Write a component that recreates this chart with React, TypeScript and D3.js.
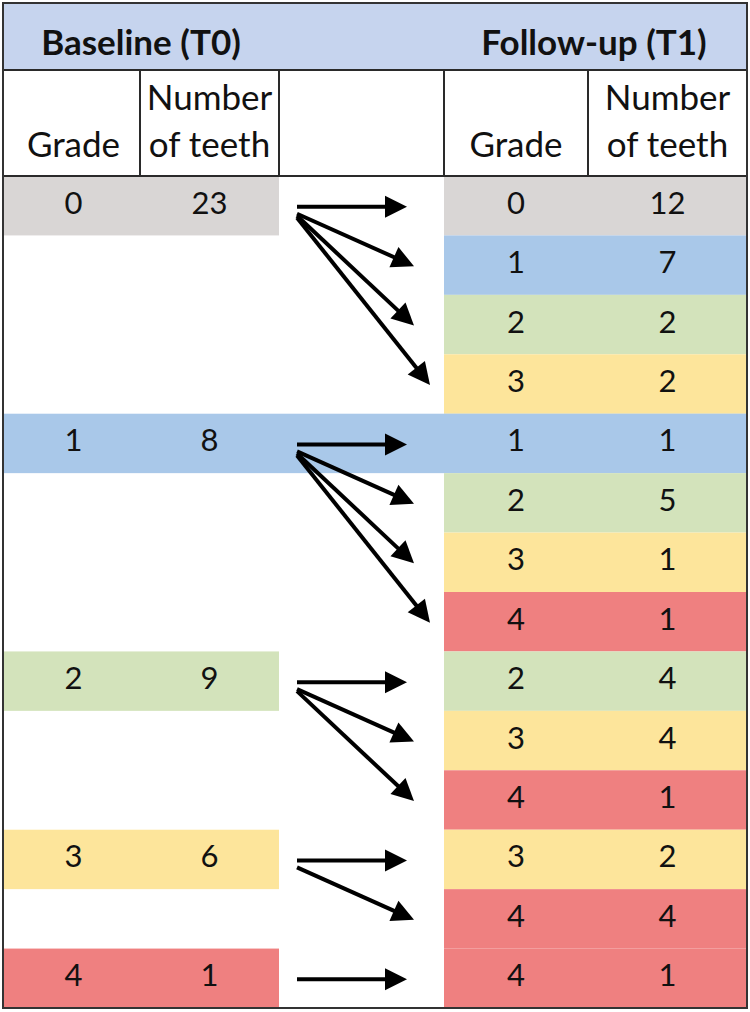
import * as d3 from 'd3'

// Baseline (T0) grades and counts
const baselineGrades = [0, 1, 2, 3, 4]
const baselineTeeth = [23, 8, 9, 6, 1]

// Follow-up (T1) transitions: one row per from -> to pair
const fromGrades = [0, 0, 0, 0, 1, 1, 1, 1, 2, 2, 2, 3, 3, 4]
const toGrades = [0, 1, 2, 3, 1, 2, 3, 4, 2, 3, 4, 3, 4, 4]
const followTeeth = [12, 7, 2, 2, 1, 5, 1, 1, 4, 4, 1, 2, 4, 1]

const gradeColors = ['#d9d6d5', '#a9c8e9', '#d3e3bb', '#fde59b', '#ef8080']

const W = 750
const H = 1012
const FONT = 'Lato, "Open Sans", sans-serif'

// layout
const frame = { left: 3, right: 747, top: 3, bottom: 1008 }
const headerBottom = 70
const colHeadBottom = 176
const colEdges = [3, 140, 279, 444, 588, 747]
const wideGrade = 1 // baseline band that runs across the arrow gap

export default function App() {
  const rowIdx = d3.range(fromGrades.length)
  const y = d3.scaleBand<number>().domain(rowIdx).range([colHeadBottom, frame.bottom]).padding(0)
  const rh = y.bandwidth()
  const cy = (i: number) => (y(i) ?? 0) + rh / 2

  // baseline row index = first transition row for that grade
  const baseRow = baselineGrades.map((g) => fromGrades.indexOf(g))

  const mid = (a: number, b: number) => (a + b) / 2
  const lx = [mid(colEdges[0], colEdges[1]) + 2, mid(colEdges[1], colEdges[2])]
  const rx = [mid(colEdges[3], colEdges[4]), mid(colEdges[4], colEdges[5])]

  const arrowStart = 297
  const headLen = 22
  const headHalf = 11

  const arrows = rowIdx.map((i) => {
    const src = baseRow[baselineGrades.indexOf(fromGrades[i])]
    const step = i - src
    const y0 = cy(src) + 1
    if (step === 0) {
      return { x0: arrowStart, y0, x1: 407, y1: y0 }
    }
    const x1 = step >= 3 ? 430 : 414
    return { x0: arrowStart, y0: y0 + 5 + step * 2, x1, y1: cy(i) + 1 }
  })

  const headPath = (a: { x0: number; y0: number; x1: number; y1: number }) => {
    const ang = Math.atan2(a.y1 - a.y0, a.x1 - a.x0)
    const bx = a.x1 - headLen * Math.cos(ang)
    const by = a.y1 - headLen * Math.sin(ang)
    const px = -Math.sin(ang) * headHalf
    const py = Math.cos(ang) * headHalf
    const p = d3.path()
    p.moveTo(a.x1, a.y1)
    p.lineTo(bx + px, by + py)
    p.lineTo(bx - px, by - py)
    p.closePath()
    return p.toString()
  }

  const numStyle = { fontFamily: FONT, fontSize: 31, fill: '#111' }
  const headStyle = { fontFamily: FONT, fontSize: 35, fill: '#111' }

  return (
    <svg width={W} height={H} style={{ position: 'absolute', left: 0, top: 0, background: '#fff' }}>
      {/* title band */}
      <rect x={frame.left} y={frame.top} width={frame.right - frame.left} height={headerBottom - frame.top} fill="#c6d4ee" />
      <text x={141} y={55} textAnchor="middle" fontFamily={FONT} fontSize={35} fontWeight={700} fill="#111">
        Baseline (T0)
      </text>
      <text x={594} y={55} textAnchor="middle" fontFamily={FONT} fontSize={35} fontWeight={700} fill="#111">
        Follow-up (T1)
      </text>

      {/* baseline bands */}
      {baselineGrades.map((g, k) => (
        <rect
          key={'b' + g}
          x={frame.left}
          y={y(baseRow[k])}
          width={(g === wideGrade ? colEdges[5] : colEdges[2]) - frame.left}
          height={rh}
          fill={gradeColors[g]}
        />
      ))}

      {/* follow-up bands */}
      {rowIdx.map((i) => (
        <rect key={'f' + i} x={colEdges[3]} y={y(i)} width={colEdges[5] - colEdges[3]} height={rh} fill={gradeColors[toGrades[i]]} />
      ))}

      {/* column headers */}
      {[0, 3].map((c) => (
        <g key={'h' + c}>
          <text x={mid(colEdges[c], colEdges[c + 1]) + (c === 0 ? 2 : 0)} y={157} textAnchor="middle" style={headStyle}>
            Grade
          </text>
          <text x={mid(colEdges[c + 1], colEdges[c + 2])} y={110} textAnchor="middle" style={headStyle}>
            Number
          </text>
          <text x={mid(colEdges[c + 1], colEdges[c + 2])} y={157} textAnchor="middle" style={headStyle}>
            of teeth
          </text>
        </g>
      ))}

      {/* header grid lines */}
      <line x1={frame.left} x2={frame.right} y1={headerBottom} y2={headerBottom} stroke="#2a2a2a" strokeWidth={2} />
      <line x1={frame.left} x2={frame.right} y1={colHeadBottom} y2={colHeadBottom} stroke="#2a2a2a" strokeWidth={2} />
      {colEdges.slice(1, 5).map((x) => (
        <line key={'v' + x} x1={x} x2={x} y1={headerBottom} y2={colHeadBottom} stroke="#2a2a2a" strokeWidth={2} />
      ))}

      {/* baseline values */}
      {baselineGrades.map((g, k) => (
        <g key={'bt' + g}>
          <text x={lx[0]} y={cy(baseRow[k]) + 8} textAnchor="middle" style={numStyle}>
            {g}
          </text>
          <text x={lx[1]} y={cy(baseRow[k]) + 8} textAnchor="middle" style={numStyle}>
            {baselineTeeth[k]}
          </text>
        </g>
      ))}

      {/* follow-up values */}
      {rowIdx.map((i) => (
        <g key={'ft' + i}>
          <text x={rx[0]} y={cy(i) + 8} textAnchor="middle" style={numStyle}>
            {toGrades[i]}
          </text>
          <text x={rx[1]} y={cy(i) + 8} textAnchor="middle" style={numStyle}>
            {followTeeth[i]}
          </text>
        </g>
      ))}

      {/* arrows */}
      {arrows.map((a, i) => {
        const ang = Math.atan2(a.y1 - a.y0, a.x1 - a.x0)
        const ex = a.x1 - (headLen - 2) * Math.cos(ang)
        const ey = a.y1 - (headLen - 2) * Math.sin(ang)
        return (
          <g key={'a' + i}>
            <line x1={a.x0} y1={a.y0} x2={ex} y2={ey} stroke="#000" strokeWidth={4} />
            <path d={headPath(a)} fill="#000" />
          </g>
        )
      })}

      {/* outer frame */}
      <rect
        x={frame.left}
        y={frame.top}
        width={frame.right - frame.left}
        height={frame.bottom - frame.top}
        fill="none"
        stroke="#333"
        strokeWidth={2}
      />
    </svg>
  )
}
